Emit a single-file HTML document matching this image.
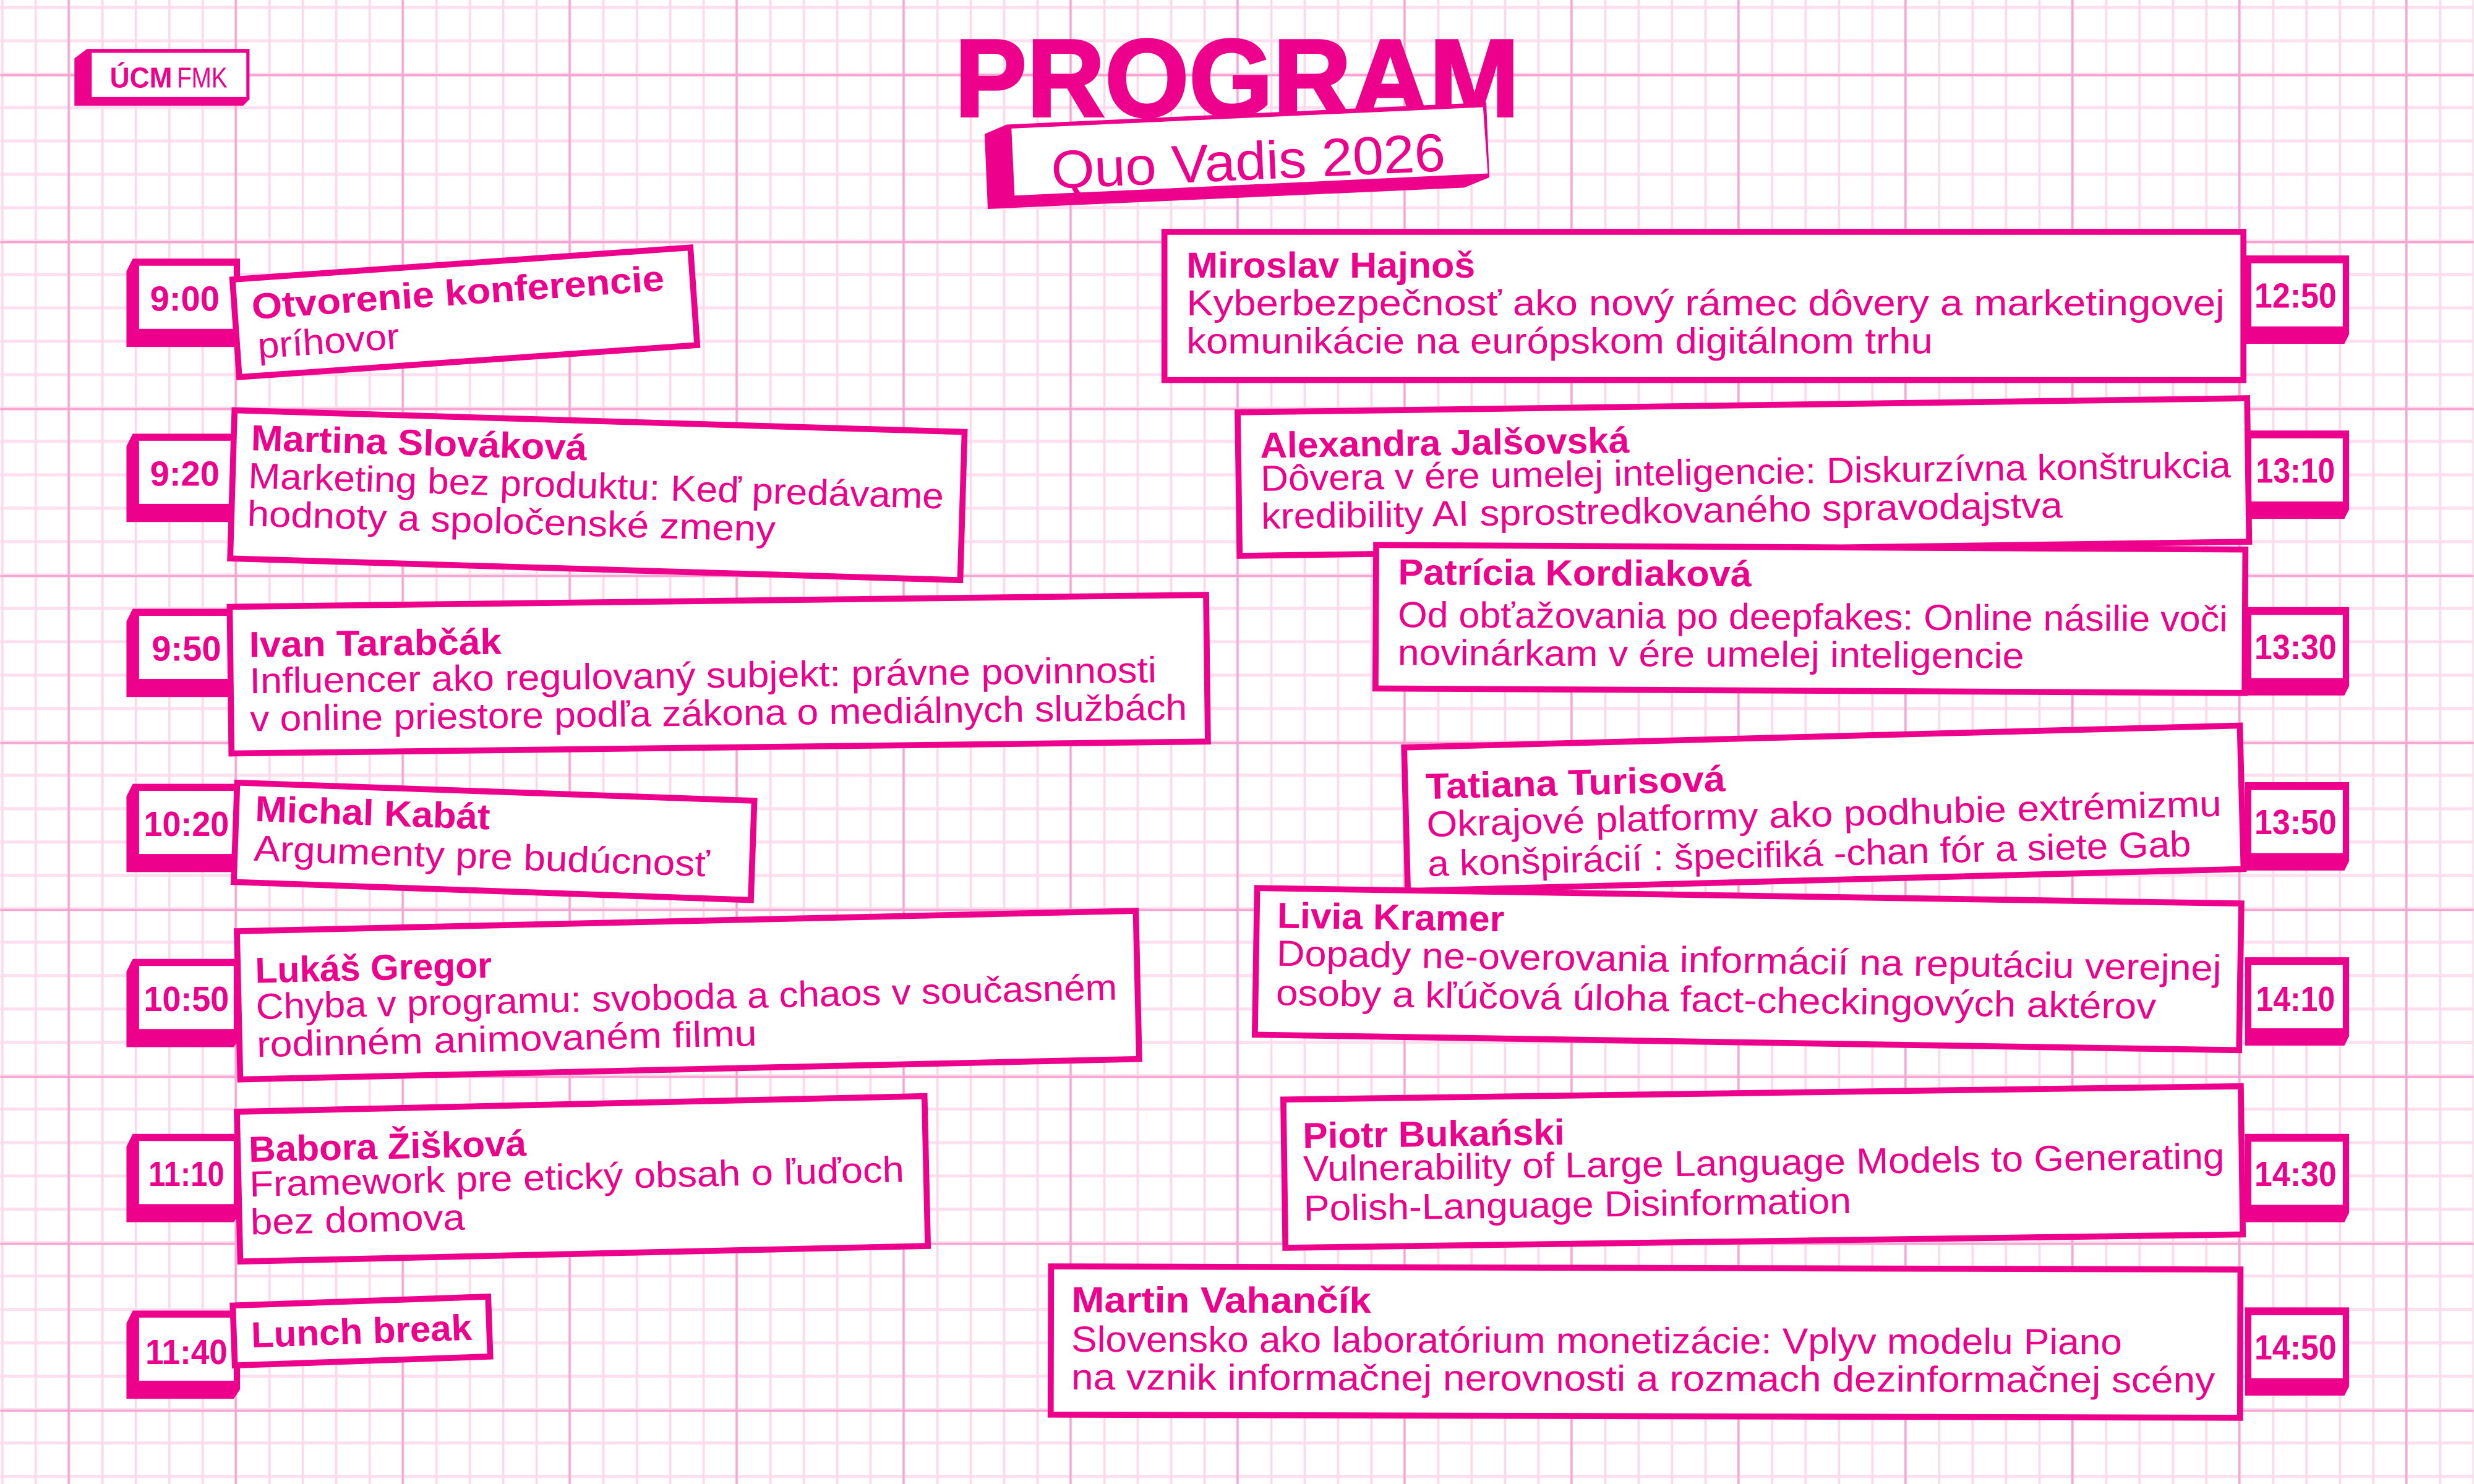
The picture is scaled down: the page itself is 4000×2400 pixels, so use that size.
<!DOCTYPE html>
<html><head><meta charset="utf-8"><style>
html,body{margin:0;padding:0;background:#fff;}
svg{display:block;}
text{font-family:"Liberation Sans",sans-serif;fill:#EC008C;}
.n{font-weight:bold;font-size:23px;}
.b{font-size:23px;}
.t{font-weight:bold;font-size:22px;}
</style></head><body>
<svg width="4000" height="2400" viewBox="0 0 1568 941" xmlns="http://www.w3.org/2000/svg">
<defs>
<pattern id="gv" x="0.55" y="0" width="21.17" height="941" patternUnits="userSpaceOnUse">
<rect x="0" y="0" width="1.5" height="941" fill="#FBDAEB"/>
</pattern>
<pattern id="gh" x="0" y="3.7" width="1568" height="21.17" patternUnits="userSpaceOnUse">
<rect x="0" y="0" width="1568" height="2" fill="#FCE0EF"/>
</pattern>
<pattern id="GV" x="42.73" y="0" width="105.85" height="941" patternUnits="userSpaceOnUse">
<rect x="-1" y="0" width="2.3" height="941" fill="#F6A6D0"/>
</pattern>
<pattern id="GH" x="0" y="47.04" width="1568" height="105.85" patternUnits="userSpaceOnUse">
<rect x="0" y="-1" width="1568" height="2.4" fill="#F6A6D0"/>
</pattern>
</defs>
<rect width="1568" height="941" fill="#fff"/>
<rect width="1568" height="941" fill="url(#gh)"/>
<rect width="1568" height="941" fill="url(#gv)"/>
<rect width="1568" height="941" fill="url(#GH)"/>
<rect width="1568" height="941" fill="url(#GV)"/>

<!-- logo -->
<polygon points="47,37 55,31 158,31 158,63 154,67 47,67" fill="#EC008C"/>
<rect x="58" y="33.5" width="98" height="28" fill="#fff"/>
<text x="69.5" y="55.5" style="font-weight:bold;font-size:18px" textLength="39.5" lengthAdjust="spacingAndGlyphs">ÚCM</text>
<text x="112" y="55.5" style="font-size:18px" textLength="32" lengthAdjust="spacingAndGlyphs">FMK</text>

<!-- title -->
<text x="605" y="73.7" style="font-weight:bold;font-size:70px" stroke="#EC008C" stroke-width="1.5" textLength="358" lengthAdjust="spacingAndGlyphs">PROGRAM</text>
<polygon points="624,85 638,79 942,65 944,112.5 928,119 626,132.5" fill="#EC008C"/>
<polygon points="641,81.5 940,68 943,110 643,124" fill="#fff"/>
<g transform="rotate(-2.6 790 100)">
<text x="666" y="114" style="font-size:34px" textLength="250" lengthAdjust="spacingAndGlyphs">Quo Vadis 2026</text>
</g>

<!-- left time boxes -->
<g>
<polygon points="80,172 84,164 152,164 152,214 148,220 80,220" fill="#EC008C"/>
<rect x="88" y="168.5" width="60" height="40" fill="#fff"/>
<text class="t" x="117" y="197" text-anchor="middle">9:00</text>

<polygon points="80,283 84,275 152,275 152,325 148,331 80,331" fill="#EC008C"/>
<rect x="88" y="279.5" width="60" height="40" fill="#fff"/>
<text class="t" x="117" y="308" text-anchor="middle">9:20</text>

<polygon points="80,394 84,386 152,386 152,436 148,442 80,442" fill="#EC008C"/>
<rect x="88" y="390.5" width="60" height="40" fill="#fff"/>
<text class="t" x="118" y="419" text-anchor="middle">9:50</text>

<polygon points="80,505 84,497 152,497 152,547 148,553 80,553" fill="#EC008C"/>
<rect x="88" y="501.5" width="60" height="40" fill="#fff"/>
<text class="t" x="118" y="530" text-anchor="middle" textLength="54" lengthAdjust="spacingAndGlyphs">10:20</text>

<polygon points="80,616 84,608 152,608 152,658 148,664 80,664" fill="#EC008C"/>
<rect x="88" y="612.5" width="60" height="40" fill="#fff"/>
<text class="t" x="118" y="641" text-anchor="middle" textLength="54" lengthAdjust="spacingAndGlyphs">10:50</text>

<polygon points="80,727 84,719 152,719 152,769 148,775 80,775" fill="#EC008C"/>
<rect x="88" y="723.5" width="60" height="40" fill="#fff"/>
<text class="t" x="118" y="752" text-anchor="middle" textLength="48" lengthAdjust="spacingAndGlyphs">11:10</text>

<polygon points="80,839 84,831 152,831 152,881 148,887 80,887" fill="#EC008C"/>
<rect x="88" y="835.5" width="60" height="40" fill="#fff"/>
<text class="t" x="118" y="865" text-anchor="middle" textLength="52" lengthAdjust="spacingAndGlyphs">11:40</text>
</g>

<!-- right time boxes -->
<g>
<polygon points="1423,162 1489,162 1489,212 1486,218 1423,218" fill="#EC008C"/>
<rect x="1427" y="167" width="58" height="40" fill="#fff"/>
<text class="t" x="1455" y="195" text-anchor="middle" textLength="52" lengthAdjust="spacingAndGlyphs">12:50</text>

<polygon points="1423,273 1489,273 1489,323 1486,329 1423,329" fill="#EC008C"/>
<rect x="1427" y="278" width="58" height="40" fill="#fff"/>
<text class="t" x="1455" y="306" text-anchor="middle" textLength="50" lengthAdjust="spacingAndGlyphs">13:10</text>

<polygon points="1423,385 1489,385 1489,435 1486,441 1423,441" fill="#EC008C"/>
<rect x="1427" y="390" width="58" height="40" fill="#fff"/>
<text class="t" x="1455" y="418" text-anchor="middle" textLength="52" lengthAdjust="spacingAndGlyphs">13:30</text>

<polygon points="1423,496 1489,496 1489,546 1486,552 1423,552" fill="#EC008C"/>
<rect x="1427" y="501" width="58" height="40" fill="#fff"/>
<text class="t" x="1455" y="529" text-anchor="middle" textLength="52" lengthAdjust="spacingAndGlyphs">13:50</text>

<polygon points="1423,607 1489,607 1489,657 1486,663 1423,663" fill="#EC008C"/>
<rect x="1427" y="612" width="58" height="40" fill="#fff"/>
<text class="t" x="1455" y="641" text-anchor="middle" textLength="50" lengthAdjust="spacingAndGlyphs">14:10</text>

<polygon points="1423,719 1489,719 1489,769 1486,775 1423,775" fill="#EC008C"/>
<rect x="1427" y="724" width="58" height="40" fill="#fff"/>
<text class="t" x="1455" y="752" text-anchor="middle" textLength="52" lengthAdjust="spacingAndGlyphs">14:30</text>

<polygon points="1423,829 1489,829 1489,879 1486,885 1423,885" fill="#EC008C"/>
<rect x="1427" y="834" width="58" height="40" fill="#fff"/>
<text class="t" x="1455" y="862" text-anchor="middle" textLength="52" lengthAdjust="spacingAndGlyphs">14:50</text>
</g>

<g fill="#fff" stroke="#EC008C" stroke-width="3.8">
<!-- left cards -->
<g transform="rotate(-4 295 198)">
<rect x="149" y="167" width="291" height="62"/>
<text class="n" stroke="none" x="160" y="193" textLength="262" lengthAdjust="spacingAndGlyphs">Otvorenie konferencie</text>
<text class="b" stroke="none" x="162" y="218" textLength="90" lengthAdjust="spacingAndGlyphs">príhovor</text>
</g>
<g transform="rotate(1.7 378 315)">
<rect x="147" y="267" width="463" height="94"/>
<text class="n" stroke="none" x="158" y="292" textLength="213" lengthAdjust="spacingAndGlyphs">Martina Slováková</text>
<text class="b" stroke="none" x="157" y="316" textLength="441" lengthAdjust="spacingAndGlyphs">Marketing bez produktu: Keď predávame</text>
<text class="b" stroke="none" x="157" y="340" textLength="335" lengthAdjust="spacingAndGlyphs">hodnoty a spoločenské zmeny</text>
</g>
<g transform="rotate(-0.7 455 428)">
<rect x="146" y="381" width="619" height="93"/>
<text class="n" stroke="none" x="158" y="413" textLength="160" lengthAdjust="spacingAndGlyphs">Ivan Tarabčák</text>
<text class="b" stroke="none" x="158" y="436" textLength="575" lengthAdjust="spacingAndGlyphs">Influencer ako regulovaný subjekt: právne povinnosti</text>
<text class="b" stroke="none" x="158" y="460" textLength="594" lengthAdjust="spacingAndGlyphs">v online priestore podľa zákona o mediálnych službách</text>
</g>
<g transform="rotate(2 313 534)">
<rect x="149" y="502" width="328" height="63"/>
<text class="n" stroke="none" x="161" y="526" textLength="149" lengthAdjust="spacingAndGlyphs">Michal Kabát</text>
<text class="b" stroke="none" x="161" y="551" textLength="289" lengthAdjust="spacingAndGlyphs">Argumenty pre budúcnosť</text>
</g>
<g transform="rotate(-1.3 436 631)">
<rect x="151" y="584" width="570" height="94"/>
<text class="n" stroke="none" x="162" y="617" textLength="150" lengthAdjust="spacingAndGlyphs">Lukáš Gregor</text>
<text class="b" stroke="none" x="162" y="640" textLength="546" lengthAdjust="spacingAndGlyphs">Chyba v programu: svoboda a chaos v současném</text>
<text class="b" stroke="none" x="162" y="664" textLength="317" lengthAdjust="spacingAndGlyphs">rodinném animovaném filmu</text>
</g>
<g transform="rotate(-1.3 369 747)">
<rect x="151" y="700" width="436" height="95"/>
<text class="n" stroke="none" x="158" y="732" textLength="176" lengthAdjust="spacingAndGlyphs">Babora Žišková</text>
<text class="b" stroke="none" x="158" y="754" textLength="415" lengthAdjust="spacingAndGlyphs">Framework pre etický obsah o ľuďoch</text>
<text class="b" stroke="none" x="158" y="778" textLength="136" lengthAdjust="spacingAndGlyphs">bez domova</text>
</g>
<g transform="rotate(-2 229 844)">
<rect x="148" y="825" width="162" height="38"/>
<text class="n" stroke="none" x="159" y="852" textLength="140" lengthAdjust="spacingAndGlyphs">Lunch break</text>
</g>

<!-- right cards -->
<g>
<rect x="738" y="147" width="684" height="94"/>
<text class="n" stroke="none" x="752" y="176" textLength="183" lengthAdjust="spacingAndGlyphs">Miroslav Hajnoš</text>
<text class="b" stroke="none" x="752" y="200" textLength="658" lengthAdjust="spacingAndGlyphs">Kyberbezpečnosť ako nový rámec dôvery a marketingovej</text>
<text class="b" stroke="none" x="752" y="224" textLength="473" lengthAdjust="spacingAndGlyphs">komunikácie na európskom digitálnom trhu</text>
</g>
<g transform="rotate(-0.8 1105 302)">
<rect x="785" y="257" width="640" height="91"/>
<text class="n" stroke="none" x="799" y="286" textLength="234" lengthAdjust="spacingAndGlyphs">Alexandra Jalšovská</text>
<text class="b" stroke="none" x="799" y="307" textLength="615" lengthAdjust="spacingAndGlyphs">Dôvera v ére umelej inteligencie: Diskurzívna konštrukcia</text>
<text class="b" stroke="none" x="799" y="331" textLength="508" lengthAdjust="spacingAndGlyphs">kredibility AI sprostredkovaného spravodajstva</text>
</g>
<g transform="rotate(0.3 1147 393)">
<rect x="872" y="347" width="551" height="91"/>
<text class="n" stroke="none" x="886" y="372" textLength="224" lengthAdjust="spacingAndGlyphs">Patrícia Kordiaková</text>
<text class="b" stroke="none" x="886" y="399" textLength="526" lengthAdjust="spacingAndGlyphs">Od obťažovania po deepfakes: Online násilie voči</text>
<text class="b" stroke="none" x="886" y="423" textLength="397" lengthAdjust="spacingAndGlyphs">novinárkam v ére umelej inteligencie</text>
</g>
<g transform="rotate(-1.5 1156 512)">
<rect x="891" y="467" width="530" height="91"/>
<text class="n" stroke="none" x="904" y="500" textLength="190" lengthAdjust="spacingAndGlyphs">Tatiana Turisová</text>
<text class="b" stroke="none" x="904" y="524" textLength="504" lengthAdjust="spacingAndGlyphs">Okrajové platformy ako podhubie extrémizmu</text>
<text class="b" stroke="none" x="904" y="549" textLength="484" lengthAdjust="spacingAndGlyphs">a konšpirácií : špecifiká -chan fór a siete Gab</text>
</g>
<g transform="rotate(0.9 1108 615)">
<rect x="796" y="568" width="624" height="93"/>
<text class="n" stroke="none" x="809" y="593" textLength="144" lengthAdjust="spacingAndGlyphs">Livia Kramer</text>
<text class="b" stroke="none" x="809" y="617" textLength="599" lengthAdjust="spacingAndGlyphs">Dopady ne-overovania informácií na reputáciu verejnej</text>
<text class="b" stroke="none" x="809" y="642" textLength="558" lengthAdjust="spacingAndGlyphs">osoby a kľúčová úloha fact-checkingových aktérov</text>
</g>
<g transform="rotate(-0.8 1117 740)">
<rect x="814" y="693" width="607" height="94"/>
<text class="n" stroke="none" x="826" y="724" textLength="166" lengthAdjust="spacingAndGlyphs">Piotr Bukański</text>
<text class="b" stroke="none" x="826" y="745" textLength="584" lengthAdjust="spacingAndGlyphs">Vulnerability of Large Language Models to Generating</text>
<text class="b" stroke="none" x="826" y="770" textLength="347" lengthAdjust="spacingAndGlyphs">Polish-Language Disinformation</text>
</g>
<g transform="rotate(0.15 1042 851)">
<rect x="666" y="804" width="754" height="94"/>
<text class="n" stroke="none" x="679" y="833" textLength="190" lengthAdjust="spacingAndGlyphs">Martin Vahančík</text>
<text class="b" stroke="none" x="679" y="858" textLength="666" lengthAdjust="spacingAndGlyphs">Slovensko ako laboratórium monetizácie: Vplyv modelu Piano</text>
<text class="b" stroke="none" x="679" y="882" textLength="725" lengthAdjust="spacingAndGlyphs">na vznik informačnej nerovnosti a rozmach dezinformačnej scény</text>
</g>
</g>
</svg>
</body></html>
